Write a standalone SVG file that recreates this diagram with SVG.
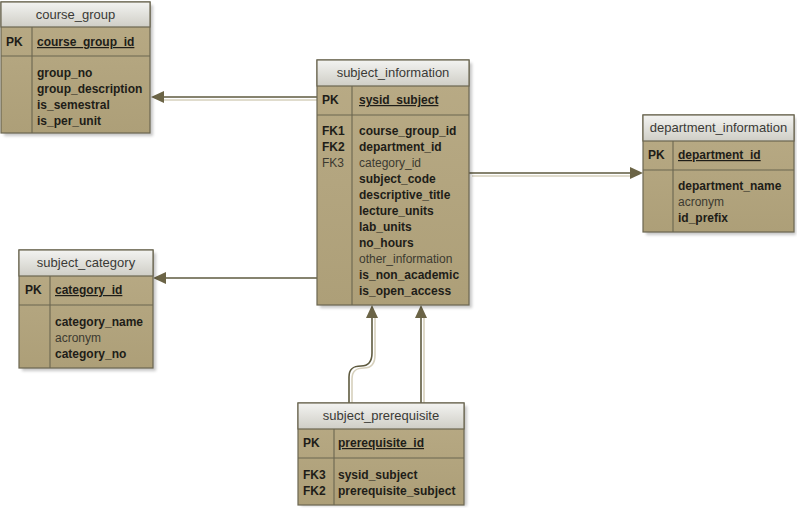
<svg xmlns="http://www.w3.org/2000/svg" width="797" height="508" viewBox="0 0 797 508">
<defs>
<linearGradient id="hdr" x1="0" y1="0" x2="0" y2="1">
<stop offset="0" stop-color="#f3f3f1"/>
<stop offset="1" stop-color="#cfcec6"/>
</linearGradient>
<linearGradient id="body" x1="0" y1="0" x2="0" y2="1">
<stop offset="0" stop-color="#b9ab86"/>
<stop offset="1" stop-color="#ad9f78"/>
</linearGradient>
<filter id="sh" x="-10%" y="-10%" width="130%" height="130%">
<feGaussianBlur stdDeviation="1.5"/>
</filter>
</defs>
<style>
.bg{fill:#ffffff}
.shadow{fill:#000;opacity:0.22;filter:url(#sh)}
.box{fill:url(#body);stroke:#6b6650;stroke-width:1.2}
.hdr{fill:url(#hdr);stroke:#6b6650;stroke-width:1.2}
.div{stroke:#6b6650;stroke-width:1.1;fill:none}
.title{font-family:"Liberation Sans",Arial,sans-serif;font-size:13px;fill:#3a3a36;text-anchor:middle}
.b{font-family:"Liberation Sans",Arial,sans-serif;font-size:12px;font-weight:bold;fill:#1e1d18}
.n{font-family:"Liberation Sans",Arial,sans-serif;font-size:12px;fill:#3c3a30}
.u{text-decoration:underline}
.ln{stroke:#5e5a3f;stroke-width:1.6;fill:none}
.lns{stroke:#d6d0bc;stroke-width:1.6;fill:none}
.ah{fill:#6b6446}
</style>
<rect class="bg" x="0" y="0" width="797" height="508"/>

<g id="connectors">
<line class="lns" x1="317" y1="100" x2="163" y2="100"/>
<line class="ln" x1="317" y1="97" x2="163" y2="97"/>
<polygon class="ah" points="151,97 164,91 164,103"/>

<line class="lns" x1="472" y1="176" x2="631" y2="176"/>
<line class="ln" x1="469" y1="173" x2="631" y2="173"/>
<polygon class="ah" points="643,173 630,167 630,179"/>

<line class="ln" x1="317" y1="278" x2="166" y2="278"/>
<polygon class="ah" points="153,278 166,272 166,284"/>

<line class="lns" x1="424" y1="403" x2="424" y2="318"/>
<line class="ln" x1="421" y1="403" x2="421" y2="317"/>
<polygon class="ah" points="421,305 415,318 427,318"/>

<path class="lns" d="M352,403 V379 C352,370 357,368 364,368 C372,368 375,363 375,355 V318"/>
<path class="ln" d="M349,403 V377 C349,368 354,366 361,366 C369,366 372,361 372,353 V317"/>
<polygon class="ah" points="372,305 366,318 378,318"/>
</g>

<g id="course_group">
<rect class="shadow" x="4" y="5" width="149" height="131"/>
<rect class="box" x="1" y="2" width="149" height="131"/>
<rect class="hdr" x="1" y="2" width="149" height="25"/>
<line class="div" x1="1" y1="56" x2="150" y2="56"/>
<line class="div" x1="32" y1="27" x2="32" y2="133"/>
<text class="title" x="75.5" y="19">course_group</text>
<text class="b" x="6" y="46">PK</text>
<text class="b u" x="37" y="46">course_group_id</text>
<text class="b" x="37" y="77">group_no</text>
<text class="b" x="37" y="93">group_description</text>
<text class="b" x="37" y="109">is_semestral</text>
<text class="b" x="37" y="125">is_per_unit</text>
</g>

<g id="subject_information">
<rect class="shadow" x="320" y="63" width="152" height="245"/>
<rect class="box" x="317" y="60" width="152" height="245"/>
<rect class="hdr" x="317" y="60" width="152" height="26"/>
<line class="div" x1="317" y1="115" x2="469" y2="115"/>
<line class="div" x1="352" y1="86" x2="352" y2="305"/>
<text class="title" x="393" y="77">subject_information</text>
<text class="b" x="322" y="104">PK</text>
<text class="b u" x="359" y="104">sysid_subject</text>
<text class="b" x="322" y="135">FK1</text>
<text class="b" x="322" y="151">FK2</text>
<text class="n" x="322" y="167">FK3</text>
<text class="b" x="359" y="135">course_group_id</text>
<text class="b" x="359" y="151">department_id</text>
<text class="n" x="359" y="167">category_id</text>
<text class="b" x="359" y="183">subject_code</text>
<text class="b" x="359" y="199">descriptive_title</text>
<text class="b" x="359" y="215">lecture_units</text>
<text class="b" x="359" y="231">lab_units</text>
<text class="b" x="359" y="247">no_hours</text>
<text class="n" x="359" y="263">other_information</text>
<text class="b" x="359" y="279">is_non_academic</text>
<text class="b" x="359" y="295">is_open_access</text>
</g>

<g id="department_information">
<rect class="shadow" x="646" y="118" width="150" height="117"/>
<rect class="box" x="643" y="115" width="151" height="117"/>
<rect class="hdr" x="643" y="115" width="151" height="26"/>
<line class="div" x1="643" y1="170" x2="794" y2="170"/>
<line class="div" x1="673" y1="141" x2="673" y2="232"/>
<text class="title" x="718.5" y="132">department_information</text>
<text class="b" x="648" y="159">PK</text>
<text class="b u" x="678" y="159">department_id</text>
<text class="b" x="678" y="190">department_name</text>
<text class="n" x="678" y="206">acronym</text>
<text class="b" x="678" y="222">id_prefix</text>
</g>

<g id="subject_category">
<rect class="shadow" x="22" y="253" width="134" height="118"/>
<rect class="box" x="19" y="250" width="134" height="118"/>
<rect class="hdr" x="19" y="250" width="134" height="26"/>
<line class="div" x1="19" y1="305" x2="153" y2="305"/>
<line class="div" x1="50" y1="276" x2="50" y2="368"/>
<text class="title" x="86" y="267">subject_category</text>
<text class="b" x="25" y="294">PK</text>
<text class="b u" x="55" y="294">category_id</text>
<text class="b" x="55" y="326">category_name</text>
<text class="n" x="55" y="342">acronym</text>
<text class="b" x="55" y="358">category_no</text>
</g>

<g id="subject_prerequisite">
<rect class="shadow" x="301" y="406" width="166" height="100"/>
<rect class="box" x="298" y="403" width="166" height="102"/>
<rect class="hdr" x="298" y="403" width="166" height="26"/>
<line class="div" x1="298" y1="458" x2="464" y2="458"/>
<line class="div" x1="334" y1="429" x2="334" y2="505"/>
<text class="title" x="381" y="420">subject_prerequisite</text>
<text class="b" x="303" y="447">PK</text>
<text class="b u" x="338" y="447">prerequisite_id</text>
<text class="b" x="303" y="479">FK3</text>
<text class="b" x="303" y="495">FK2</text>
<text class="b" x="338" y="479">sysid_subject</text>
<text class="b" x="338" y="495">prerequisite_subject</text>
</g>
</svg>
